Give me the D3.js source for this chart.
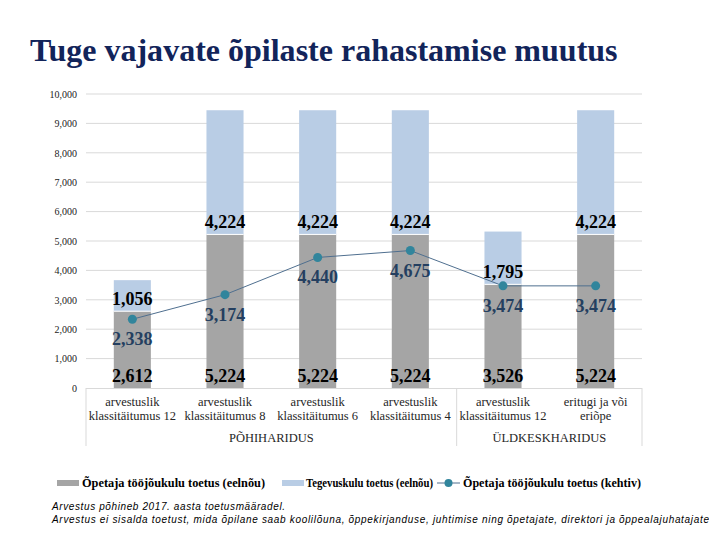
<!DOCTYPE html>
<html><head><meta charset="utf-8">
<script src="https://cdn.jsdelivr.net/npm/d3@7"></script>
<style>body{margin:0;background:#fff}</style>
</head><body>
<script>
const categories = ["arvestuslik|klassitäitumus 12","arvestuslik|klassitäitumus 8","arvestuslik|klassitäitumus 6","arvestuslik|klassitäitumus 4","arvestuslik|klassitäitumus 12","eritugi ja või|eriõpe"];
const groups = [{name:"PÕHIHARIDUS", from:0, to:3},{name:"ÜLDKESKHARIDUS", from:4, to:5}];
const teacherDraft = [2612, 5224, 5224, 5224, 3526, 5224];
const operatingDraft = [1056, 4224, 4224, 4224, 1795, 4224];
const teacherCurrent = [2338, 3174, 4440, 4675, 3474, 3474];
const yTicks = [0,1000,2000,3000,4000,5000,6000,7000,8000,9000,10000];
const seriesNames = ["Õpetaja tööjõukulu toetus (eelnõu)","Tegevuskulu toetus (eelnõu)","Õpetaja tööjõukulu toetus (kehtiv)"];
const title = "Tuge vajavate õpilaste rahastamise muutus";
const notes = ["Arvestus põhineb 2017. aasta toetusmääradel.","Arvestus ei sisalda toetust, mida õpilane saab koolilõuna, õppekirjanduse, juhtimise ning õpetajate, direktori ja õppealajuhatajate"];

(function(){
const W=709,H=539;
const svg=d3.select("body").append("svg").attr("width",W).attr("height",H);
const serif="Liberation Serif, Times New Roman, serif";
const cGray="#a5a5a5", cBlue="#b9cde5", cLine="#4f6f8f", cDot="#31859c", cLab2="#243f60";

// title
const t=svg.append("text").attr("x",30).attr("y",61).style("font-family",serif).attr("font-weight","bold")
  .attr("font-size",30).attr("fill","#12245a").text(title);
const tl=t.node().getComputedTextLength(); t.attr("font-size",30*588/tl);

const pL=86,pR=642,pT=94,pB=388;
const x=d3.scaleBand().domain(d3.range(categories.length)).range([pL,pR]).paddingInner(0.6).paddingOuter(0.3);
const y=d3.scaleLinear().domain([0,10000]).range([pB,pT]);

// grid
svg.append("g").selectAll("line").data(yTicks.slice(1)).join("line")
  .attr("x1",pL).attr("x2",pR).attr("y1",d=>y(d)).attr("y2",d=>y(d)).attr("stroke","#d9d9d9");
const yAxis=svg.append("g").attr("transform",`translate(${pL-9},0)`)
  .call(d3.axisLeft(y).tickValues(yTicks).tickFormat(d3.format(",")).tickSize(0));
yAxis.select(".domain").remove();
yAxis.attr("font-family",null);
yAxis.selectAll("text").style("font-family",serif).attr("font-size",10).attr("fill","#222").attr("x",0);

// bars
const bw=x.bandwidth();
svg.append("g").selectAll("rect").data(teacherDraft).join("rect")
  .attr("x",(d,i)=>x(i)).attr("width",bw).attr("y",d=>y(d)).attr("height",d=>y(0)-y(d)).attr("fill",cGray);
svg.append("g").selectAll("rect").data(operatingDraft).join("rect")
  .attr("x",(d,i)=>x(i)).attr("width",bw).attr("y",(d,i)=>y(teacherDraft[i]+d)).attr("height",(d,i)=>y(teacherDraft[i])-y(teacherDraft[i]+d)).attr("fill",cBlue);
svg.append("g").selectAll("line").data(teacherDraft).join("line")
  .attr("x1",(d,i)=>x(i)).attr("x2",(d,i)=>x(i)+bw).attr("y1",d=>y(d)).attr("y2",d=>y(d)).attr("stroke","#fff").attr("stroke-width",1);

// category axis box
svg.append("line").attr("x1",pL).attr("x2",pR).attr("y1",pB+0.5).attr("y2",pB+0.5).attr("stroke","#d9d9d9");
const sepX=[pL, (x(3)+bw+x(4))/2, pR];
svg.append("g").selectAll("line").data(sepX).join("line")
  .attr("x1",d=>d).attr("x2",d=>d).attr("y1",pB).attr("y2",446).attr("stroke","#d9d9d9");
const cl=svg.append("g").selectAll("text").data(categories).join("text")
  .style("font-family",serif).attr("font-size",12.5).attr("fill","#262626").attr("text-anchor","middle");
cl.each(function(d,i){
  const parts=d.split("|"), cx=x(i)+bw/2;
  parts.forEach((p,j)=>d3.select(this).append("tspan").attr("x",cx).attr("y",406+j*14).text(p));
});
svg.append("g").selectAll("text").data(groups).join("text")
  .attr("x",g=>g.from===0?(sepX[0]+sepX[1])/2:(sepX[1]+sepX[2])/2).attr("y",442)
  .attr("text-anchor","middle").style("font-family",serif).attr("font-size",12.5).attr("fill","#262626").text(g=>g.name);

// line
const line=d3.line().x((d,i)=>x(i)+bw/2).y(d=>y(d));
svg.append("path").datum(teacherCurrent).attr("d",line).attr("fill","none").attr("stroke",cLine).attr("stroke-width",1);
svg.append("g").selectAll("circle").data(teacherCurrent).join("circle")
  .attr("cx",(d,i)=>x(i)+bw/2).attr("cy",d=>y(d)).attr("r",4.5).attr("fill",cDot);

// labels
const fmt=d3.format(",");
function labels(data,yf,color){
  svg.append("g").selectAll("text").data(data).join("text")
    .attr("x",(d,i)=>x(i)+bw/2).attr("y",yf).attr("text-anchor","middle").attr("dominant-baseline","central")
    .style("font-family",serif).attr("font-weight","bold").attr("font-size",18).attr("fill",color).text(d=>fmt(d));
}
labels(teacherDraft,()=>y(0)-12,"#000");
labels(operatingDraft,(d,i)=>y(teacherDraft[i])-12,"#000");
labels(teacherCurrent,d=>y(d)+20,cLab2);

// legend
const lg=svg.append("g").style("font-family",serif).attr("font-weight","bold").attr("font-size",12).attr("fill","#000");
const ly=483;
lg.append("rect").attr("x",57).attr("y",ly-3).attr("width",22).attr("height",6).attr("fill",cGray);
lg.append("text").attr("x",82).attr("y",ly+4).attr("textLength",183).attr("lengthAdjust","spacingAndGlyphs").text(seriesNames[0]);
lg.append("rect").attr("x",282).attr("y",ly-3).attr("width",22).attr("height",6).attr("fill",cBlue);
lg.append("text").attr("x",306).attr("y",ly+4).attr("textLength",127).attr("lengthAdjust","spacingAndGlyphs").text(seriesNames[1]);
lg.append("line").attr("x1",437).attr("x2",460).attr("y1",ly).attr("y2",ly).attr("stroke",cLine);
lg.append("circle").attr("cx",448.5).attr("cy",ly).attr("r",4).attr("fill",cDot);
lg.append("text").attr("x",463).attr("y",ly+4).attr("textLength",178).attr("lengthAdjust","spacingAndGlyphs").text(seriesNames[2]);

// notes
const nl=[[52,510,233],[52,523,657]];
notes.forEach((n,i)=>{
  svg.append("text").attr("x",nl[i][0]).attr("y",nl[i][1]).style("font-family","Liberation Sans, Arial, sans-serif")
    .attr("font-style","italic").attr("font-size",10).attr("fill","#000")
    .attr("textLength",nl[i][2]).attr("lengthAdjust","spacing").text(n);
});
})();
</script>
</body></html>
